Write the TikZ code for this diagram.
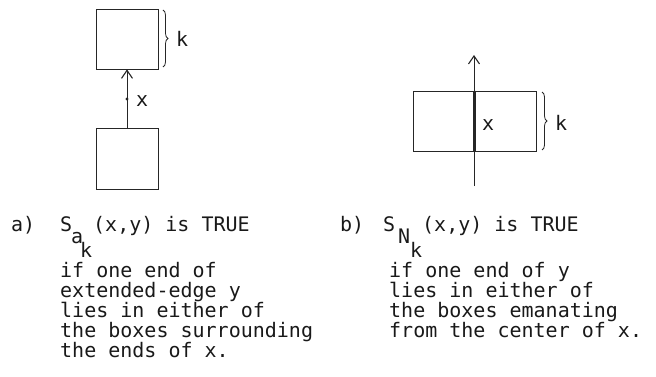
\documentclass[tikz,border=0pt]{standalone}
\usepackage{fontspec}
\setmonofont{DejaVu Sans Mono}
\usetikzlibrary{arrows.meta,decorations.pathreplacing}
\tikzset{
  boxnode/.style={draw=black!85,line width=0.8pt,inner sep=0pt,minimum width=#1},
  edgeline/.style={draw=black!85,line width=0.8pt},
  headarrow/.style={edgeline,-{Straight Barb[length=8pt,width=11pt,line width=1.1pt]}},
  txt/.style={anchor=base west,inner sep=0pt,font=\fontsize{20}{20}\selectfont\ttfamily,text=black!90},
  bracemark/.style={draw=black!85,line width=0.8pt,decorate,decoration={brace,amplitude=5pt}}
}
\begin{document}
\begin{tikzpicture}[x=1pt,y=-1pt]
\useasboundingbox (0,0) rectangle (656,377);
% ---- diagram a ----
\node[boxnode=62pt,minimum height=60pt] (ta) at (127,39) {};
\node[boxnode=62pt,minimum height=61pt] (ba) at (127,158.5) {};
\draw[headarrow] (ba.north) -- (ta.south);
\node[circle,fill=black!85,inner sep=0pt,minimum size=3.4pt] (da) at (127,99) {};
\node[txt] (xa) at (136,107) {x};
\coordinate (ka1) at (163,10);
\coordinate (ka2) at (163,67);
\draw[bracemark] (ka1) -- (ka2);
\node[txt] (kla) at (176,47) {k};
% ---- diagram b ----
\node[boxnode=123pt,minimum height=60pt] (rb) at (474.5,121) {};
\coordinate (lb1) at (474,186);
\coordinate (lb2) at (474,55);
\draw[headarrow] (lb1) -- (lb2);
\draw[draw=black!85,line width=3pt] (rb.north -| lb1) -- (rb.south -| lb1);
\node[txt] (xb) at (482,131) {x};
\coordinate (kb1) at (542,92);
\coordinate (kb2) at (542,150);
\draw[bracemark] (kb1) -- (kb2);
\node[txt] (klb) at (555,131) {k};
% ---- text a ----
\node[txt] (la) at (11,231) {a)};
\node[txt] (sa) at (60,231) {S};
\node[txt] (sa1) at (71,243) {a};
\node[txt] (sa2) at (80,257) {k};
\node[txt] (sa3) at (93,231) {(x,y) is TRUE};
\node[txt] (a1) at (60,277) {if one end of};
\node[txt] (a2) at (60,297) {extended-edge y};
\node[txt] (a3) at (60,317) {lies in either of};
\node[txt] (a4) at (60,337) {the boxes surrounding};
\node[txt] (a5) at (60,357) {the ends of x.};
% ---- text b ----
\node[txt] (lbb) at (340,231) {b)};
\node[txt] (sb) at (383,231) {S};
\node[txt] (sb1) at (398,243) {N};
\node[txt] (sb2) at (410,257) {k};
\node[txt] (sb3) at (422,231) {(x,y) is TRUE};
\node[txt] (b1) at (389,277) {if one end of y};
\node[txt] (b2) at (389,297) {lies in either of};
\node[txt] (b3) at (389,317) {the boxes emanating};
\node[txt] (b4) at (389,337) {from the center of x.};
\end{tikzpicture}
\end{document}
